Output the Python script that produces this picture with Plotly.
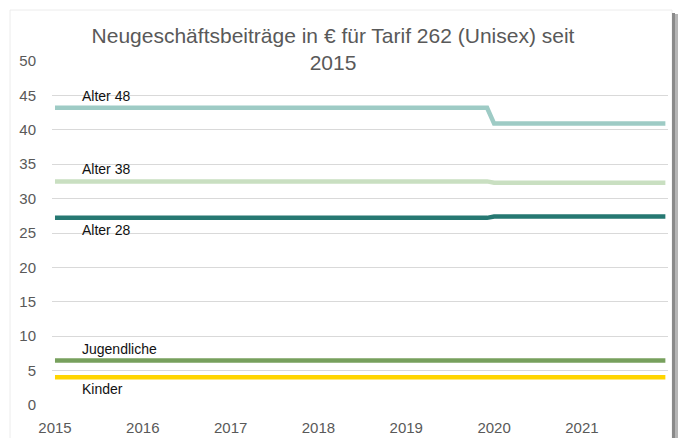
import plotly.graph_objects as go

# ---- data ----
x_points = [2015.0, 2019.92, 2020.0, 2021.95]
series_names = ["Alter 48", "Alter 38", "Alter 28", "Jugendliche", "Kinder"]
alter48 = [43.2, 43.2, 40.9, 40.9]
alter38 = [32.5, 32.5, 32.3, 32.3]
alter28 = [27.2, 27.2, 27.4, 27.4]
jugendliche = [6.45, 6.45, 6.45, 6.45]
kinder = [4.05, 4.05, 4.05, 4.05]
x_ticks = [2015, 2016, 2017, 2018, 2019, 2020, 2021]
y_ticks = [0, 5, 10, 15, 20, 25, 30, 35, 40, 45, 50]
title_text = "Neugeschäftsbeiträge in € für Tarif 262 (Unisex) seit<br>2015"

# label positions (x in data units, y value) and placement
label_x = 2015.29
label_specs = [
    ("Alter 48", 43.2, "bottom"),
    ("Alter 38", 32.5, "bottom"),
    ("Alter 28", 27.2, "top"),
    ("Jugendliche", 6.45, "bottom"),
    ("Kinder", 4.05, "top"),
]

colors = ["#9ecbc5", "#c9dfc1", "#267872", "#77a05d", "#ffd500"]
values = [alter48, alter38, alter28, jugendliche, kinder]

W, H = 678, 438
L, R, T, B = 52, 10, 61, 33
pw, ph = W - L - R, H - T - B

def px(xp):
    return (xp - L) / pw

def py(yp):
    return (H - B - yp) / ph

fig = go.Figure()
for name, vals, c in zip(series_names, values, colors):
    fig.add_trace(go.Scatter(x=x_points, y=vals, mode="lines", name=name,
                             line=dict(color=c, width=4.5), showlegend=False,
                             hoverinfo="skip"))

FONT = "Liberation Sans Narrow, Liberation Sans, sans-serif"

annots = []
for text, yv, pos in label_specs:
    annots.append(dict(x=label_x, y=yv, xref="x", yref="y", text=text,
                       showarrow=False, xanchor="left",
                       yanchor="bottom" if pos == "bottom" else "top",
                       yshift=2 if pos == "bottom" else -2,
                       font=dict(family=FONT, size=14, color="#111111")))

shapes = [
    # frame
    dict(type="rect", xref="paper", yref="paper", x0=px(10), x1=px(672),
         y0=py(440), y1=py(10), line=dict(color="#ececec", width=1),
         fillcolor="rgba(0,0,0,0)", layer="below"),
    # shadow on right
    dict(type="rect", xref="paper", yref="paper", x0=px(672), x1=px(675),
         y0=py(440), y1=py(13), line=dict(width=0), fillcolor="#8a8a8a"),
    dict(type="rect", xref="paper", yref="paper", x0=px(675), x1=px(678),
         y0=py(440), y1=py(14), line=dict(width=0), fillcolor="#b5b5b5"),
]

fig.update_layout(
    width=W, height=H,
    margin=dict(l=L, r=R, t=T, b=B),
    paper_bgcolor="white", plot_bgcolor="white",
    title=dict(text=title_text, x=333 / W, xanchor="center", y=1 - 43 / H, yanchor="middle",
               font=dict(family=FONT, size=21, color="#595959")),
    annotations=annots,
    shapes=shapes,
    xaxis=dict(range=[2014.966, 2021.98], tickvals=x_ticks, automargin=False,
               ticktext=[str(v) for v in x_ticks], showgrid=False, zeroline=False,
               showline=False, ticks="", ticklabelstandoff=12,
               tickfont=dict(family=FONT, size=15, color="#595959")),
    yaxis=dict(range=[0, 50], tickvals=y_ticks, showgrid=True, gridcolor="#d9d9d9",
               gridwidth=1, zeroline=False, showline=False, ticks="", automargin=False,
               ticklabelstandoff=15,
               tickfont=dict(family=FONT, size=15, color="#595959")),
)

fig.write_html("out.html", config={"displayModeBar": False},
               post_script="document.body.style.margin='0';document.body.style.overflow='hidden';")
